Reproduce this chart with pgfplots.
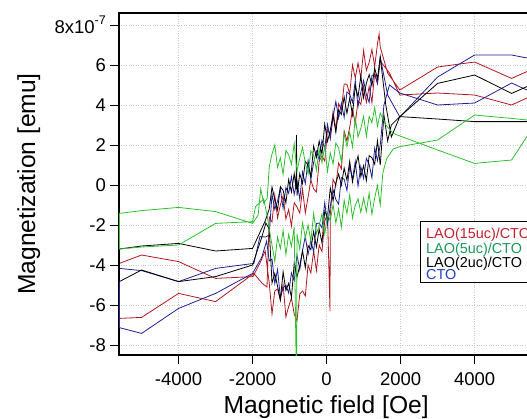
\documentclass[border=0pt]{standalone}
\usepackage{pgfplots}
\pgfplotsset{compat=1.18}
\usepackage{fontspec}
\setmainfont{Liberation Sans}
\definecolor{redline}{RGB}{178,22,32}
\definecolor{greenline}{RGB}{44,192,44}
\definecolor{blueline}{RGB}{30,32,150}
\definecolor{redtext}{RGB}{196,34,44}
\definecolor{greentext}{RGB}{28,152,92}
\definecolor{bluetext}{RGB}{32,64,200}
\begin{document}
\begin{tikzpicture}
\begin{axis}[
  at={(119pt,-355pt)}, anchor=south west,
  scale only axis, width=418.5pt, height=342pt,
  xmin=-5610, xmax=5700, ymin=-8.5, ymax=8.6,
  xtick={-4000,-2000,0,2000,4000},
  xticklabels={-4000,-2000,0,2000,4000},
  ytick={-8,-6,-4,-2,0,2,4,6,8},
  yticklabels={-8,-6,-4,-2,0,2,4,6,{8x10\raisebox{0.5em}{\fontsize{12.5}{12.5}\selectfont -7}}},
  tick align=outside, major tick length=9pt, tick pos=left,
  grid=major, grid style={dotted, black!22, line width=0.7pt},
  axis line style={line width=1.2pt},
  every tick/.style={black, line width=1pt},
  tick label style={font=\fontsize{18.5}{18.5}\selectfont, inner sep=0pt},
  yticklabel style={xshift=-4pt},
  xticklabel style={yshift=-8pt},
  xlabel={Magnetic field [Oe]}, ylabel={Magnetization [emu]},
  label style={font=\fontsize{24.6}{24.6}\selectfont},
  xlabel style={at={(axis description cs:0.495,-0.1696)}, anchor=base},
  ylabel style={at={(axis description cs:-0.2007,0.5)}, anchor=base},
]
% LAO(15uc)/CTO
\addplot[redline, line width=0.8pt] coordinates {
(5413,5.67)(5000,5.33)(4000,6.15)(3000,5.9)(1980,4.75)(1650,5.6)
(1450,6.9)(1420,7.55)(1375,7.06)(1300,5.92)(1225,6.78)(1150,6.13)(1075,5.73)(1000,6.73)(925,5.33)(850,6.1)(775,5.35)(700,6.0)(625,4.55)(550,5.04)(475,5.05)(400,3.76)(325,4.07)(250,2.78)(175,3.69)(100,2.5)(25,2.75)(-50,1.2)(-125,1.45)(-200,1.2)(-275,-0.35)(-350,-0.2)(-425,0.25)(-500,-0.6)(-575,-1.4)(-650,-0.2)(-725,-1.4)(-800,-1.1)(-875,-0.88)(-950,-2.05)(-1025,-1.23)(-1100,-1.7)(-1175,-0.55)(-1250,-1.0)(-1325,-1.65)(-1400,-0.5)(-1475,-1.85)(-1550,-1.6)
(-1610,-5.1)(-1740,-4.92)(-1965,-4.42)(-3000,-5.83)(-4000,-5.42)(-5000,-6.62)(-5600,-6.67)
(-5600,-3.92)(-5000,-3.5)(-4000,-3.83)(-3000,-4.67)(-1990,-4.58)(-1800,-3.9)(-1660,-3.3)
(-1550,-4.9)(-1475,-6.45)(-1400,-5.3)(-1325,-5.2)(-1250,-5.75)(-1175,-4.98)(-1100,-6.6)(-1025,-6.08)(-950,-5.65)(-875,-6.45)(-800,-6.8)(-725,-5.45)(-650,-5.3)(-575,-5.55)(-500,-4.0)(-425,-4.4)(-350,-3.3)(-275,-4.28)(-200,-3.0)(-125,-3.33)(-50,-1.8)(25,-1.45)(92,-6.3)(100,-1.5)(175,0.29)(250,-0.02)(325,1.1)(400,0.8)(475,2.7)(550,2.2)(625,2.89)(700,3.78)(775,3.07)(850,4.23)(925,4.03)(1000,4.93)(1075,4.13)(1150,4.93)(1225,4.12)(1300,5.61)(1375,5.11)(1450,6.2)
(1700,5.6)(1980,4.5)(3000,4.6)(4000,4.5)(5000,4.0)(5413,4.35)
};
% CTO
\addplot[blueline, line width=0.8pt] coordinates {
(5413,6.35)(5000,6.5)(4000,6.5)(3000,5.4)(1980,3.4)(1650,4.5)
(1450,6.4)(1375,5.06)(1300,5.52)(1225,5.48)(1150,4.13)(1075,4.53)(1000,5.23)(925,4.63)(850,3.93)(775,5.23)(700,4.13)(625,4.53)(550,4.65)(475,3.38)(400,4.1)(325,3.34)(250,4.18)(175,3.38)(100,2.3)(25,3.03)(-50,1.82)(-125,2.24)(-200,1.27)(-275,1.69)(-350,1.13)(-425,0.28)(-500,1.23)(-575,0.08)(-650,0.65)(-725,-0.72)(-800,0.2)(-875,-0.48)(-950,0.42)(-1025,-0.41)(-1100,-0.13)(-1175,-1.16)(-1250,-0.18)(-1325,-0.8)(-1400,-1.22)(-1475,-0.45)(-1550,-2.5)
(-1650,-2.6)(-1800,-2.58)(-1965,-3.92)(-3000,-4.17)(-4000,-4.83)(-5000,-4.28)(-5600,-4.17)
(-5600,-7.13)(-5000,-7.42)(-4000,-6.17)(-3000,-5.42)(-2000,-4.42)(-1750,-3.6)(-1620,-2.8)
(-1550,-3.8)(-1475,-3.7)(-1400,-4.93)(-1325,-4.23)(-1250,-5.6)(-1175,-5.15)(-1100,-5.0)(-1025,-5.4)(-950,-4.4)(-875,-4.78)(-800,-3.5)(-725,-4.23)(-650,-3.27)(-575,-2.57)(-500,-3.47)(-425,-2.77)(-350,-3.35)(-275,-1.93)(-200,-1.9)(-125,-2.14)(-50,-0.88)(25,-1.99)(100,-1.07)(175,-0.24)(250,-0.72)(325,-0.96)(400,0.37)(475,0.29)(550,-0.28)(625,0.93)(700,0.3)(775,1.18)(850,-0.05)(925,0.93)(1000,0.33)(1075,1.33)(1150,1.03)(1225,0.36)(1300,1.84)(1375,1.22)(1450,2.0)
(1550,4.0)(1700,5.0)(1980,4.6)(3000,4.0)(4000,4.1)(5000,5.1)(5413,4.75)
};
% LAO(2uc)/CTO
\addplot[black, line width=0.8pt] coordinates {
(5413,4.92)(5000,4.58)(4000,5.5)(3000,5.08)(1980,3.42)(1750,2.4)(1600,4.0)
(1450,6.4)(1375,5.32)(1300,5.84)(1225,4.96)(1150,5.52)(1075,5.09)(1000,4.37)(925,5.45)(850,4.4)(775,4.95)(700,3.5)(625,4.35)(550,3.58)(475,4.41)(400,3.53)(325,3.76)(250,2.63)(175,3.48)(100,2.73)(25,2.18)(-50,3.05)(-125,1.53)(-200,2.2)(-275,1.38)(-350,1.95)(-425,0.43)(-500,1.0)(-575,1.18)(-650,0.07)(-725,0.57)(-800,-0.53)(-815,2.5)(-825,-0.2)(-875,0.57)(-950,-0.35)(-1025,0.27)(-1100,-0.9)(-1175,-0.27)(-1250,-0.08)(-1325,-1.25)(-1400,-0.72)(-1475,-0.1)(-1550,-1.2)
(-1660,-1.8)(-2000,-3.17)(-3000,-3.3)(-4000,-2.92)(-5000,-3.05)(-5600,-3.2)
(-5600,-4.83)(-5000,-4.25)(-4000,-4.83)(-3000,-4.58)(-2000,-4.0)(-1750,-2.6)(-1640,-1.9)
(-1550,-2.2)(-1475,-4.9)(-1400,-4.42)(-1325,-5.06)(-1250,-5.75)(-1175,-4.34)(-1100,-5.27)(-1025,-4.92)(-950,-5.63)(-875,-3.91)(-800,-4.6)(-725,-4.04)(-650,-3.28)(-575,-4.13)(-500,-3.03)(-425,-3.23)(-350,-2.33)(-275,-3.1)(-200,-2.2)(-125,-2.9)(-50,-1.3)(25,-1.61)(100,-0.15)(175,-0.79)(250,0.1)(325,0.55)(400,0.0)(475,0.85)(550,0.24)(625,1.19)(700,0.15)(775,0.91)(850,1.46)(925,0.42)(1000,0.97)(1075,0.22)(1150,1.47)(1225,1.36)(1300,1.04)(1375,2.22)(1450,1.0)
(1550,3.5)(1650,2.2)(1750,3.0)(1980,3.42)(3000,3.3)(4000,3.17)(5000,3.17)(5413,3.17)
};
% LAO(5uc)/CTO
\addplot[greenline, line width=0.8pt] coordinates {
(5413,2.42)(5000,1.25)(4000,1.08)(3000,1.75)(1800,2.58)(1600,3.0)
(1450,3.6)(1375,2.94)(1300,3.88)(1225,3.12)(1150,3.43)(1075,2.43)(1000,3.43)(925,2.83)(850,2.4)(775,3.35)(700,1.9)(625,2.65)(550,1.92)(475,2.59)(400,1.17)(325,1.85)(250,2.1)(175,1.05)(100,1.6)(25,0.68)(-50,1.95)(-125,1.12)(-200,1.8)(-275,0.74)(-350,1.48)(-425,1.71)(-500,0.55)(-575,1.09)(-650,1.88)(-725,1.34)(-800,0.7)(-875,2.06)(-950,1.03)(-1025,1.51)(-1100,1.73)(-1175,0.54)(-1250,1.36)(-1325,0.88)(-1400,2.0)(-1475,1.55)(-1550,0.9)
(-1605,-0.67)(-1700,-0.9)(-1780,-0.2)(-1850,-1.5)(-2000,-1.92)(-3000,-1.33)(-4000,-1.12)(-5000,-1.28)(-5600,-1.42)
(-5600,-3.2)(-5000,-3.1)(-4000,-3.0)(-3000,-1.92)(-2000,-1.83)(-1920,-1.08)(-1700,-0.7)(-1600,-1.6)
(-1550,-2.2)(-1475,-3.0)(-1400,-3.82)(-1325,-2.6)(-1250,-3.18)(-1175,-2.27)(-1100,-3.47)(-1025,-2.47)(-950,-3.07)(-875,-2.09)(-822,-9)(-810,-9)(-800,-2.45)(-725,-3.21)(-650,-1.88)(-575,-2.64)(-500,-2.0)(-425,-2.81)(-350,-1.42)(-275,-2.43)(-200,-2.04)(-125,-1.45)(-50,-2.46)(25,-1.47)(100,-1.78)(175,-0.98)(250,-1.89)(325,-1.19)(400,-2.1)(475,-0.76)(550,-1.43)(625,-0.49)(700,-1.65)(775,-1.01)(850,-0.69)(925,-1.37)(1000,-0.65)(1075,-1.33)(1150,-0.41)(1225,-1.46)(1300,-0.64)(1375,-0.02)(1450,-1.0)
(1520,0.6)(1620,1.3)(1800,1.8)(1980,1.92)(3000,2.25)(4000,3.5)(5000,3.33)(5413,3.25)
};
\end{axis}
% legend (cropped at the right edge as in the reference)
\draw[black, line width=0.8pt, fill=white] (420.7pt,-221.7pt) rectangle (560pt,-282.3pt);
\begin{scope}[every node/.style={anchor=base west, inner sep=0pt, font=\fontsize{14.4}{14.4}\selectfont}]
\node[text=redtext] at (426pt,-238.8pt) {LAO(15uc)/CTO};
\node[text=greentext] at (426pt,-253.1pt) {LAO(5uc)/CTO};
\node[text=black] at (426pt,-267.4pt) {LAO(2uc)/CTO};
\node[text=bluetext] at (426pt,-279.7pt) {CTO};
\end{scope}
\pgfresetboundingbox
\path[use as bounding box] (0pt,0pt) rectangle (527pt,-418pt);
\end{tikzpicture}
\end{document}
